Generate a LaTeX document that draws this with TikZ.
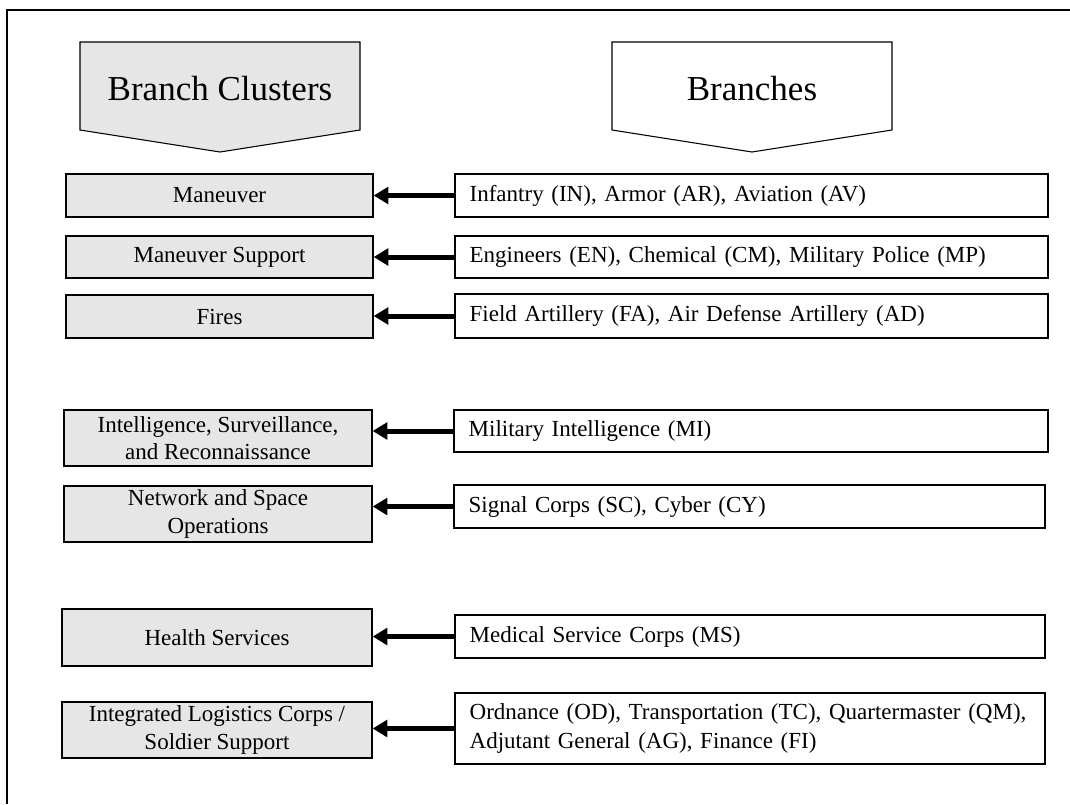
\documentclass[tikz,border=0pt]{standalone}
\usepackage{fontspec}
\setmainfont{Liberation Serif}
\usetikzlibrary{arrows.meta}
\definecolor{boxgray}{HTML}{E6E6E6}
\tikzset{
  head/.style={draw=black, line width=0.8pt},
  headtext/.style={inner sep=0pt, font=\fontsize{26.25}{30}\selectfont},
  lbox/.style={draw=black, fill=boxgray, line width=1pt, inner sep=0pt, align=center,
    font=\fontsize{17.25}{20.5}\selectfont},
  rbox/.style={draw=black, fill=white, line width=1pt, inner xsep=11pt, inner ysep=0pt, align=left,
    font=\fontsize{17.25}{21.5}\selectfont},
  feed/.style={line width=3.75pt, -{Triangle[length=11pt,width=12.5pt]}},
  frame/.style={line width=1.5pt}
}
\begin{document}
\begin{tikzpicture}[x=0.75pt,y=-0.75pt]
\useasboundingbox (0,0) rectangle (1070,804);
% frame
\draw[frame] (7,804) -- (7,10) -- (1070,10);
% headers
\draw[head, fill=boxgray] (80,42) -- (360,42) -- (360,130) -- (220,152) -- (80,130) -- cycle;
\node[headtext, anchor=base] (hl) at (220,100) {Branch Clusters};
\draw[head, fill=white] (612,42) -- (892,42) -- (892,130) -- (752,152) -- (612,130) -- cycle;
\node[headtext, anchor=base] (hr) at (752,100) {Branches};
% left boxes
\node[lbox, minimum width=230.25pt, minimum height=32.25pt] (man) at (219.5,195.5) {Maneuver};
\node[lbox, minimum width=230.25pt, minimum height=31.5pt] (mans) at (219.5,257) {Maneuver Support};
\node[lbox, minimum width=230.25pt, minimum height=32.25pt] (fires) at (219.5,316.5) {Fires};
\node[lbox, minimum width=231pt, minimum height=42pt] (isr) at (218,438) {Intelligence, Surveillance,\\and Reconnaissance};
\node[lbox, minimum width=231pt, minimum height=42pt] (net) at (218,514) {Network and Space\\Operations};
\node[lbox, minimum width=232.5pt, minimum height=42.75pt] (hs) at (217,637.5) {Health Services};
\node[lbox, minimum width=232.5pt, minimum height=42pt] (ilc) at (217,730) {Integrated Logistics Corps /\\Soldier Support};
% right boxes
\node[rbox, text width=422.75pt, minimum height=32.25pt] (inf) at (751.5,195.5) {Infantry (IN), Armor (AR), Aviation (AV)};
\node[rbox, text width=422.75pt, minimum height=31.5pt] (eng) at (751.5,257) {Engineers (EN), Chemical (CM), Military Police (MP)};
\node[rbox, text width=422.75pt, minimum height=33pt] (fa) at (751.5,316) {Field Artillery (FA), Air Defense Artillery (AD)};
\node[rbox, text width=423.5pt, minimum height=31.5pt] (mi) at (751,431) {Military Intelligence (MI)};
\node[rbox, text width=421.25pt, minimum height=32.25pt] (sc) at (749.5,506.5) {Signal Corps (SC), Cyber (CY)};
\node[rbox, text width=420.5pt, minimum height=32.25pt] (msc) at (750,636.5) {Medical Service Corps (MS)};
\node[rbox, text width=420.5pt, minimum height=53.25pt] (od) at (750,728.5) {Ordnance (OD), Transportation (TC), Quartermaster (QM),\\Adjutant General (AG), Finance (FI)};
% connectors
\draw[feed] (inf.west) -- (inf.west -| man.east);
\draw[feed] (eng.west) -- (eng.west -| mans.east);
\draw[feed] (fa.west) -- (fa.west -| fires.east);
\draw[feed] (mi.west) -- (mi.west -| isr.east);
\draw[feed] (sc.west) -- (sc.west -| net.east);
\draw[feed] (msc.west) -- (msc.west -| hs.east);
\draw[feed] (od.west) -- (od.west -| ilc.east);
\end{tikzpicture}
\end{document}
